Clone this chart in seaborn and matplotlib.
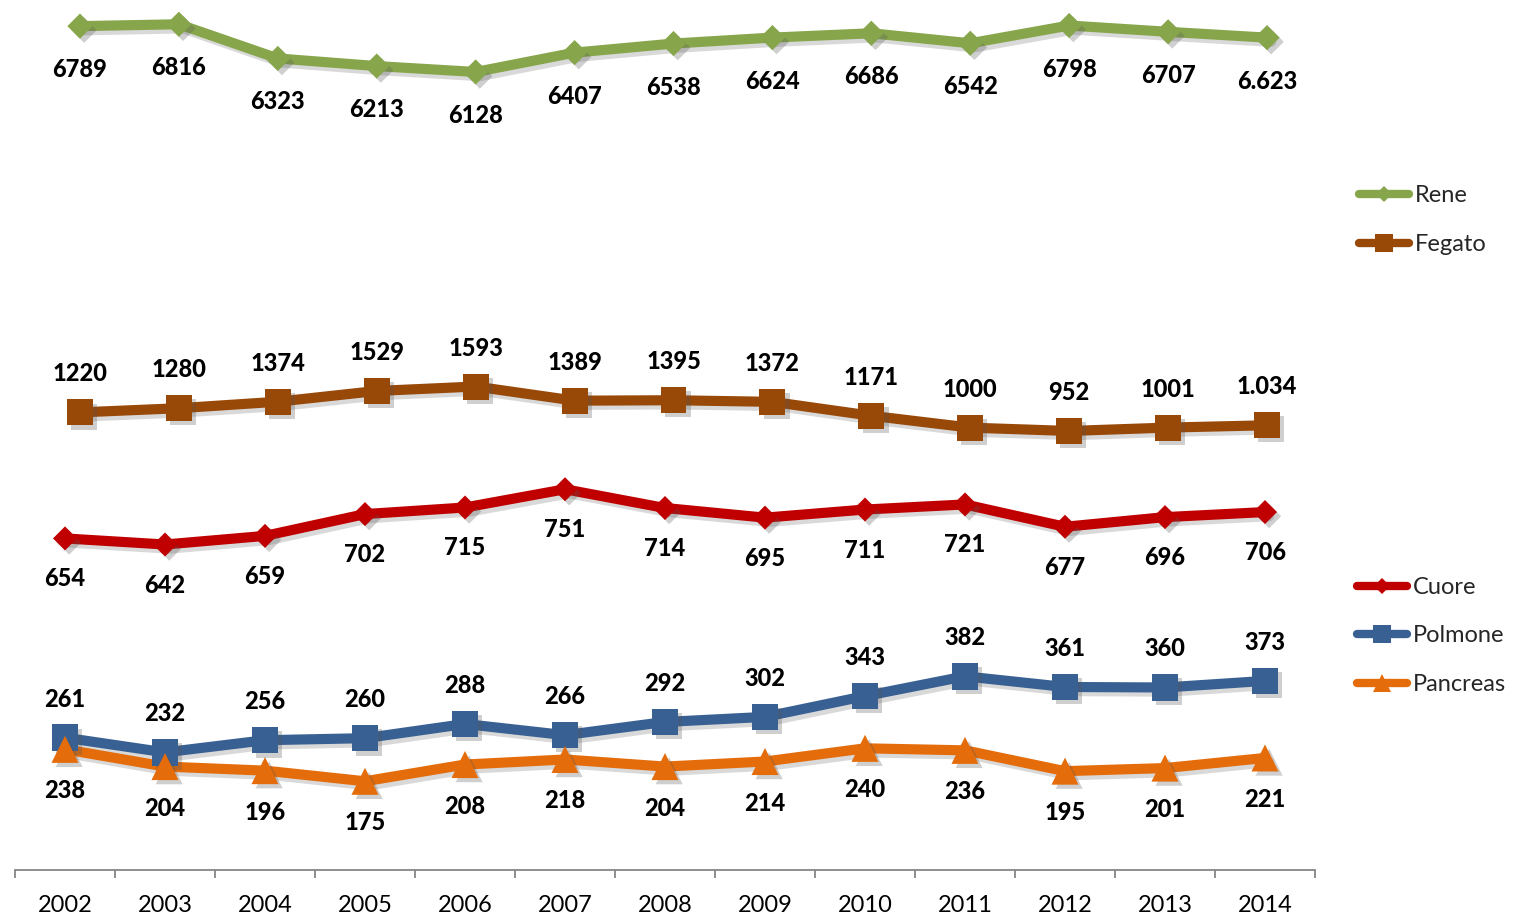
import matplotlib
matplotlib.use("Agg")
import matplotlib.pyplot as plt
import matplotlib.patheffects as pe
from matplotlib.lines import Line2D
import numpy as np
import seaborn as sns

# ---- data -------------------------------------------------------------
years = [2002, 2003, 2004, 2005, 2006, 2007, 2008, 2009, 2010, 2011, 2012, 2013, 2014]

rene = [6789, 6816, 6323, 6213, 6128, 6407, 6538, 6624, 6686, 6542, 6798, 6707, 6623]
fegato = [1220, 1280, 1374, 1529, 1593, 1389, 1395, 1372, 1171, 1000, 952, 1001, 1034]

cuore = [654, 642, 659, 702, 715, 751, 714, 695, 711, 721, 677, 696, 706]
polmone = [261, 232, 256, 260, 288, 266, 292, 302, 343, 382, 361, 360, 373]
pancreas = [238, 204, 196, 175, 208, 218, 204, 214, 240, 236, 195, 201, 221]

# ---- style ------------------------------------------------------------
sns.set_theme(style="white")
plt.rcParams["font.family"] = ["Lato", "DejaVu Sans"]

C_RENE = "#87A64B"
C_FEGATO = "#984807"
C_CUORE = "#C00000"
C_POLMONE = "#386093"
C_PANCREAS = "#E46C0A"

W, H = 1513, 916
fig = plt.figure(figsize=(W / 100, H / 100), dpi=100)


def axes_px(left, right, y_zero, y_top):
    """Add an axes given pixel edges measured from the top-left corner."""
    ax = fig.add_axes([left / W, (H - y_zero) / H, (right - left) / W, (y_zero - y_top) / H])
    ax.patch.set_visible(False)
    return ax


ax_top = axes_px(30.5, 1316.5, 497, 11.5)
ax_bot = axes_px(15, 1315, 870, 413.7)

x = np.arange(len(years))

line_fx = [pe.SimpleLineShadow(offset=(3, -3), shadow_color="#555555", alpha=0.22), pe.Normal()]
mark_fx = [pe.SimplePatchShadow(offset=(3, -3), shadow_rgbFace="#555555", alpha=0.28), pe.Normal()]


def fmt(v, sep=False):
    return f"{v:,}".replace(",", ".") if sep else str(v)


def series(ax, values, color, marker, size, label_dy, sep_last=False):
    sns.lineplot(x=x, y=values, ax=ax, color=color, linewidth=7.3,
                 solid_joinstyle="round", path_effects=line_fx, legend=False)
    sns.scatterplot(x=x, y=values, ax=ax, color=color, marker=marker, s=size,
                    edgecolor="none", linewidth=0, path_effects=mark_fx,
                    legend=False, zorder=3)
    for i, v in enumerate(values):
        txt = fmt(v, sep_last and i == len(values) - 1)
        ax.annotate(txt, (i, v), xytext=(0, label_dy), textcoords="offset pixels",
                    ha="center", va="baseline", fontsize=17, fontweight="black",
                    color="#000000", zorder=5)


# top panel: kidney and liver
series(ax_top, rene, C_RENE, "D", 165, -51, sep_last=True)
series(ax_top, fegato, C_FEGATO, "s", 350, 31, sep_last=True)
ax_top.set_xlim(-0.5, len(years) - 0.5)
ax_top.set_ylim(0, 7000)
ax_top.axis("off")

# bottom panel: heart, lung, pancreas
series(ax_bot, cuore, C_CUORE, "D", 150, -48)
series(ax_bot, polmone, C_POLMONE, "s", 360, 31)
series(ax_bot, pancreas, C_PANCREAS, "^", 380, -49)
ax_bot.set_xlim(-0.5, len(years) - 0.5)
ax_bot.set_ylim(0, 900)
for side in ("left", "right", "top"):
    ax_bot.spines[side].set_visible(False)
ax_bot.spines["bottom"].set_color("#868686")
ax_bot.spines["bottom"].set_linewidth(1.3)
ax_bot.set_yticks([])
ax_bot.set_xticks(x)
ax_bot.set_xticklabels([str(y) for y in years], fontsize=17, color="#000000")
ax_bot.set_xticks(np.arange(-0.5, len(years)), minor=True)
ax_bot.tick_params(axis="x", which="major", length=0, pad=18)
ax_bot.tick_params(axis="x", which="minor", length=6, width=1.3, color="#868686", bottom=True)
ax_bot.set_xlabel("")
ax_bot.set_ylabel("")


def handle(color, marker, ms):
    return Line2D([], [], color=color, linewidth=6, marker=marker, markersize=ms,
                  markeredgewidth=0, solid_capstyle="round")


leg_kw = dict(frameon=False, fontsize=17, handlelength=2.1, handletextpad=0.25,
              labelspacing=1.17, borderpad=0, borderaxespad=0, loc="center left")

fig.legend([handle(C_RENE, "D", 8), handle(C_FEGATO, "s", 13)], ["Rene", "Fegato"],
           bbox_to_anchor=(1359 / W, 1 - 220 / H), **leg_kw)
fig.legend([handle(C_CUORE, "D", 8), handle(C_POLMONE, "s", 13), handle(C_PANCREAS, "^", 13)],
           ["Cuore", "Polmone", "Pancreas"],
           bbox_to_anchor=(1357 / W, 1 - 636 / H), **leg_kw)

fig.savefig("out.png", dpi=100)
